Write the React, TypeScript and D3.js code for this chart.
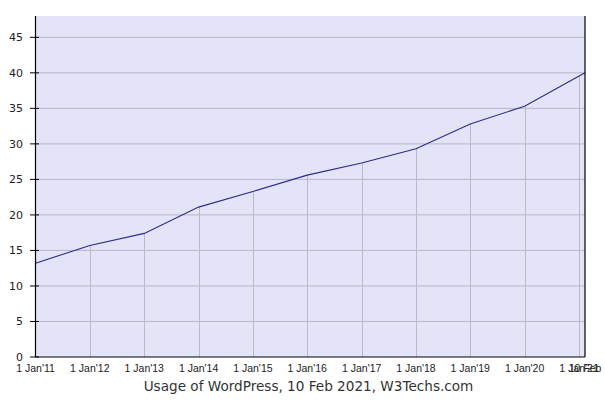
import React from "react";
import * as d3 from "d3";

const dates: string[] = [
  "2011-01-01", "2012-01-01", "2013-01-01", "2014-01-01", "2015-01-01",
  "2016-01-01", "2017-01-01", "2018-01-01", "2019-01-01", "2020-01-01", "2021-02-10",
];
const usage: number[] = [13.2, 15.7, 17.4, 21.1, 23.3, 25.6, 27.3, 29.3, 32.8, 35.3, 40.0];
const tickDates: string[] = [
  "2011-01-01", "2012-01-01", "2013-01-01", "2014-01-01", "2015-01-01", "2016-01-01",
  "2017-01-01", "2018-01-01", "2019-01-01", "2020-01-01", "2021-01-01", "2021-02-10",
];
const tickLabels: string[] = [
  "1 Jan'11", "1 Jan'12", "1 Jan'13", "1 Jan'14", "1 Jan'15", "1 Jan'16",
  "1 Jan'17", "1 Jan'18", "1 Jan'19", "1 Jan'20", "1 Jan'21", "10 Feb",
];
const yTicks: number[] = [0, 5, 10, 15, 20, 25, 30, 35, 40, 45];
const title = "Usage of WordPress, 10 Feb 2021, W3Techs.com";

const W = 605, H = 403;
const left = 35.5, right = 585, top = 16, bottom = 357;

export default function App() {
  const parse = (s: string) => new Date(s + "T00:00:00Z");
  const x = d3.scaleUtc().domain([parse(dates[0]), parse(dates[dates.length - 1])]).range([left, right]);
  const y = d3.scaleLinear().domain([0, 48]).range([bottom, top]);
  const pts: [number, number][] = dates.map((d, i) => [x(parse(d)), y(usage[i])]);
  const line = d3.line<[number, number]>()(pts) || "";
  const lineY = (px: number) => {
    for (let i = 0; i < pts.length - 1; i++) {
      const [x0, y0] = pts[i], [x1, y1] = pts[i + 1];
      if (px >= x0 - 0.01 && px <= x1 + 0.01) return y0 + ((px - x0) / (x1 - x0)) * (y1 - y0);
    }
    return pts[pts.length - 1][1];
  };
  return (
    <svg width={W} height={H} style={{ position: "absolute", left: 0, top: 0, background: "#fff" }}>
      <rect x={left} y={top} width={right - left} height={bottom - top} fill="#e4e4f8" />
      {yTicks.filter((t) => t > 0).map((t) => (
        <line key={"g" + t} x1={left} x2={right} y1={y(t)} y2={y(t)} stroke="#b6b6c6" strokeWidth={1} />
      ))}
      {tickDates.slice(1, tickDates.length - 1).map((d) => {
        const px = Math.round(x(parse(d))) + 0.5;
        return <line key={"v" + d} x1={px} x2={px} y1={bottom} y2={lineY(px)} stroke="#babac4" strokeWidth={1} />;
      })}
      <path d={line} fill="none" stroke="#2b2b8c" strokeWidth={1.1} />
      <line x1={left} x2={left} y1={top} y2={bottom} stroke="#000" strokeWidth={1.2} />
      <line x1={right} x2={right} y1={top} y2={bottom} stroke="#000" strokeWidth={1.2} />
      <line x1={left} x2={right} y1={bottom} y2={bottom} stroke="#000" strokeWidth={1.2} />
      {yTicks.map((t) => (
        <g key={"y" + t}>
          <line x1={30} x2={39} y1={y(t)} y2={y(t)} stroke="#000" strokeWidth={1} />
          <text x={23} y={y(t) + 4} textAnchor="end" fontFamily="DejaVu Sans, Verdana, sans-serif" fontSize={11} fill="#222">
            {t}
          </text>
        </g>
      ))}
      {tickDates.map((d, i) => (
        <text key={"x" + d} x={x(parse(d))} y={372} textAnchor="middle" fontFamily="Liberation Sans, Arial, sans-serif" fontSize={10.5} fill="#222">
          {tickLabels[i]}
        </text>
      ))}
      <text x={308.5} y={391} textAnchor="middle" fontFamily="DejaVu Sans, Verdana, sans-serif" fontSize={13.6} fill="#333">
        {title}
      </text>
    </svg>
  );
}
